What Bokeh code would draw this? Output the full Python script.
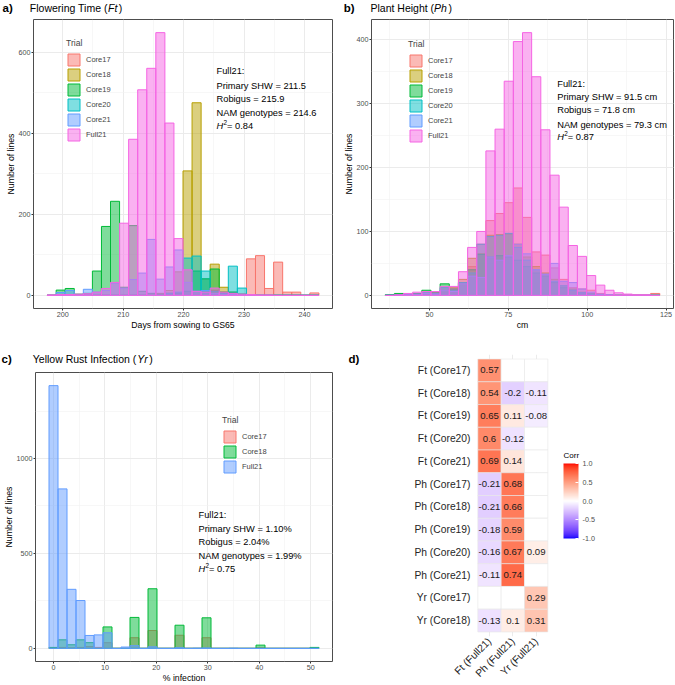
import math
import numpy as np
from bokeh.plotting import figure
from bokeh.models import (Range1d, FixedTicker, Label, Legend, LegendItem, FactorRange,
                          LinearColorMapper, ColorBar, PrintfTickFormatter, ColumnDataSource)
from bokeh.layouts import row, column
from bokeh.embed import file_html
from bokeh.resources import INLINE
from bokeh.core.properties import value

FONT = "Liberation Sans"

# ---------------- data ----------------
# a) Flowering time: 30 bins
ft_trials = ["Core17", "Core18", "Core19", "Core20", "Core21", "Full21"]
ft_bin_start = 197.4
ft_bin_width = 1.5
ft_core17 = [0, 0, 0, 0, 0, 0, 0, 0, 0, 0, 0, 0, 3, 5, 6, 10, 3, 8, 12, 8, 5, 3, 90, 98, 17, 82, 8, 8, 0, 6]
ft_core18 = [0, 0, 0, 0, 0, 0, 0, 0, 0, 0, 0, 0, 5, 12, 58, 307, 475, 40, 77, 20, 8, 0, 0, 0, 0, 0, 0, 0, 0, 0]
ft_core19 = [0, 13, 17, 3, 5, 60, 170, 232, 20, 172, 10, 5, 3, 5, 5, 10, 60, 41, 65, 8, 8, 3, 0, 0, 0, 0, 0, 0, 0, 0]
ft_core20 = [0, 0, 0, 0, 0, 0, 0, 0, 0, 0, 0, 0, 0, 5, 8, 92, 97, 60, 10, 5, 72, 18, 0, 0, 0, 0, 0, 0, 0, 0]
ft_core21 = [0, 7, 12, 0, 15, 8, 12, 30, 18, 39, 55, 138, 40, 70, 112, 32, 10, 12, 5, 3, 2, 0, 0, 0, 0, 0, 0, 0, 0, 0]
ft_full21 = [1, 2, 2, 3, 4, 8, 17, 32, 178, 385, 507, 560, 648, 425, 140, 63, 10, 8, 18, 8, 5, 3, 2, 1, 1, 0, 0, 0, 0, 0]
ft_xticks = [200, 210, 220, 230, 240]
ft_yticks = [0, 200, 400, 600]
ft_notes = ["Full21:", "Primary SHW = 211.5", "Robigus = 215.9", "NAM genotypes = 214.6"]
ft_h2 = "0.84"

# b) Plant height: 30 bins
ph_bin_start = 36.0
ph_bin_width = 2.9
ph_core17 = [0, 0, 0, 1, 2, 3, 5, 10, 20, 45, 80, 117, 128, 145, 168, 122, 68, 63, 43, 25, 12, 10, 8, 3, 1, 0, 0, 0, 0, 3]
ph_core18 = [0, 0, 1, 2, 3, 4, 8, 12, 25, 58, 65, 94, 95, 96, 80, 60, 45, 35, 25, 15, 10, 5, 3, 1, 0, 0, 0, 0, 0, 0]
ph_core19 = [1, 3, 2, 3, 8, 4, 18, 10, 20, 40, 64, 60, 62, 60, 55, 45, 35, 30, 20, 12, 8, 4, 2, 0, 0, 0, 0, 0, 0, 0]
ph_core20 = [0, 1, 1, 2, 4, 3, 12, 8, 20, 35, 80, 92, 94, 97, 75, 55, 40, 33, 22, 15, 8, 4, 2, 1, 0, 0, 0, 0, 0, 0]
ph_core21 = [0, 0, 1, 1, 3, 2, 8, 6, 18, 30, 28, 60, 55, 62, 80, 65, 40, 33, 50, 22, 20, 10, 5, 2, 1, 0, 0, 0, 0, 0]
ph_full21 = [0, 1, 3, 5, 6, 6, 14, 14, 37, 75, 100, 226, 260, 335, 397, 411, 342, 259, 188, 138, 78, 61, 31, 16, 8, 4, 2, 1, 1, 0]
ph_xticks = [50, 75, 100, 125]
ph_yticks = [0, 100, 200, 300, 400]
ph_notes = ["Full21:", "Primary SHW = 91.5 cm", "Robigus = 71.8 cm", "NAM genotypes = 79.3 cm"]
ph_h2 = "0.87"

# c) Yellow rust: 30 bins
yr_trials = ["Core17", "Core18", "Full21"]
yr_bin_start = -0.875
yr_bin_width = 1.75
yr_core17 = [3, 5, 3, 5, 10, 5, 30, 0, 0, 56, 0, 94, 0, 0, 69, 0, 0, 56, 0, 0, 0, 0, 0, 3, 0, 0, 0, 0, 0, 0]
yr_core18 = [5, 45, 19, 45, 30, 0, 113, 0, 0, 163, 0, 314, 0, 0, 122, 0, 0, 161, 0, 0, 0, 0, 0, 17, 0, 0, 0, 0, 0, 5]
yr_full21 = [1384, 840, 311, 252, 68, 71, 82, 0, 7, 14, 0, 8, 0, 0, 3, 0, 1, 2, 0, 0, 1, 0, 0, 0, 0, 0, 0, 0, 0, 1]
yr_xticks = [0, 10, 20, 30, 40, 50]
yr_yticks = [0, 500, 1000]
yr_notes = ["Full21:", "Primary SHW = 1.10%", "Robigus = 2.04%", "NAM genotypes = 1.99%"]
yr_h2 = "0.75"

# d) correlations
corr_rows = ["Ft (Core17)", "Ft (Core18)", "Ft (Core19)", "Ft (Core20)", "Ft (Core21)",
             "Ph (Core17)", "Ph (Core18)", "Ph (Core19)", "Ph (Core20)", "Ph (Core21)",
             "Yr (Core17)", "Yr (Core18)"]
corr_cols = ["Ft (Full21)", "Ph (Full21)", "Yr (Full21)"]
corr_ft = [0.57, 0.54, 0.65, 0.6, 0.69, -0.21, -0.21, -0.18, -0.16, -0.11, None, -0.13]
corr_ph = [None, -0.2, 0.11, -0.12, 0.14, 0.68, 0.66, 0.59, 0.67, 0.74, None, 0.1]
corr_yr = [None, -0.11, -0.08, None, None, None, None, None, 0.09, None, 0.29, 0.31]
corr_ticks = [-1.0, -0.5, 0.0, 0.5, 1.0]

# ---------------- layout geometry (page px) ----------------
TOT_W, TOT_H = 675, 685

STRIP_T = 17                 # title strip of the top row
HT = 332 - STRIP_T           # plots of the top row
WL = 336
WR = TOT_W - WL
Y_BOT = STRIP_T + HT         # y where bottom row starts
STRIP_C = 366 - Y_BOT        # title strip of panel c
HC = TOT_H - Y_BOT - STRIP_C
HB = TOT_H - Y_BOT
BB = 23                      # bottom border of histogram panels

HUE6 = ["#F8766D", "#B79F00", "#00BA38", "#00BFC4", "#619CFF", "#F564E3"]
HUE3 = ["#F8766D", "#00BA38", "#619CFF"]

W = {' ': 278, '(': 333, ')': 333, '.': 278, ':': 278, '=': 584, '%': 889, '-': 333,
     'A': 667, 'B': 667, 'C': 722, 'D': 722, 'E': 667, 'F': 611, 'G': 778, 'H': 722, 'I': 278,
     'M': 833, 'N': 722, 'P': 667, 'R': 722, 'S': 667, 'T': 611, 'W': 944, 'Y': 667,
     'a': 556, 'b': 556, 'c': 500, 'd': 556, 'e': 556, 'f': 278, 'g': 556, 'h': 556, 'i': 222,
     'l': 222, 'm': 833, 'n': 556, 'o': 556, 'p': 556, 'r': 333, 's': 500, 't': 278, 'u': 556,
     'w': 722, 'y': 500, 'x': 500, 'k': 500, 'v': 500}


def tw(s, size):
    return sum(W.get(ch, 556) for ch in s) / 1000.0 * size


def add_text(p, fl, fb, x, y, segs, color="black"):
    """x, y in figure px (y from top); fl/fb = frame left / bottom in figure px."""
    cx = x
    for text, size, style, dy, extra in segs:
        p.add_layout(Label(x=cx - fl, y=fb - y + dy, x_units="screen", y_units="screen",
                           text=text, text_font=FONT, text_font_size=f"{size}px",
                           text_font_style=style, text_baseline="middle", text_align="left",
                           text_color=color))
        cx += tw(text, size) + extra


def title_segs(plain, ital):
    s = 10.5
    return [(plain, s, "normal", 0, 0), (ital, s, "italic", 0, 1.5), (")", s, "normal", 0, 0)]


def strip(w, h):
    p = figure(width=w, height=h, x_range=Range1d(0, w), y_range=Range1d(0, h),
               x_axis_type=None, y_axis_type=None, output_backend="svg", toolbar_location=None,
               min_border=0)
    p.outline_line_color = None
    p.background_fill_color = "white"
    p.border_fill_color = "white"
    return p


def hist_fig(w, h, bl, br, bt, bb, xr, yr, xt, xm, yt, ym, xlabel):
    p = figure(width=w, height=h, x_range=Range1d(*xr), y_range=Range1d(*yr),
               output_backend="svg", toolbar_location=None,
               min_border_left=bl, min_border_right=br, min_border_top=bt, min_border_bottom=bb)
    p.background_fill_color = "white"
    p.border_fill_color = "white"
    p.outline_line_color = "#4D4D4D"
    p.outline_line_width = 1
    xtk = FixedTicker(ticks=xt, minor_ticks=xm)
    ytk = FixedTicker(ticks=yt, minor_ticks=ym)
    p.xaxis.ticker = xtk
    p.xgrid.ticker = xtk
    p.yaxis.ticker = ytk
    p.ygrid.ticker = ytk
    for g in (p.xgrid, p.ygrid):
        g.grid_line_color = "#EBEBEB"
        g.grid_line_width = 1
        g.minor_grid_line_color = "#F2F2F2"
        g.minor_grid_line_width = 0.6
    p.xaxis.axis_label = xlabel
    p.yaxis.axis_label = "Number of lines"
    for ax in (p.xaxis, p.yaxis):
        ax.axis_line_color = None
        ax.minor_tick_line_color = None
        ax.minor_tick_in = 0
        ax.minor_tick_out = 0
        ax.major_tick_in = 0
        ax.major_tick_out = 2
        ax.major_tick_line_color = "#333333"
        ax.major_label_standoff = 1
        ax.axis_label_standoff = 0
        ax.major_label_text_font = FONT
        ax.major_label_text_font_size = "7.2px"
        ax.major_label_text_line_height = 1.0
        ax.major_label_text_color = "#4D4D4D"
        ax.axis_label_text_font = FONT
        ax.axis_label_text_font_size = "8.7px"
        ax.axis_label_text_line_height = 1.0
        ax.axis_label_text_font_style = "normal"
        ax.axis_label_text_color = "black"
    return p


def add_bars(p, start, width, series, names, colors, lxp, lyp):
    n = len(series[0])
    edges = start + width * np.arange(n + 1)
    items = []
    for counts, name, col in zip(series, names, colors):
        r = p.quad(left=edges[:-1], right=edges[1:], bottom=np.zeros(n), top=np.array(counts, float),
                   fill_color=col, fill_alpha=0.5, line_color=col, line_width=1)
        items.append(LegendItem(label=name, renderers=[r]))
    lg = Legend(items=items, location=(lxp, lyp), title="Trial", glyph_width=15, glyph_height=15,
                label_height=15, spacing=0, padding=0, margin=0, label_standoff=5,
                label_text_font=FONT, label_text_font_size="7.5px",
                title_text_font=FONT, title_text_font_size="8.6px", title_text_font_style="normal",
                title_standoff=4, background_fill_alpha=0, border_line_color=None)
    p.add_layout(lg)


def notes(p, fl, fb, x, ys, lines, h2):
    s = 9.3
    for line, y in zip(lines, ys[:4]):
        add_text(p, fl, fb, x, y, [(line, s, "normal", 0, 0)])
    add_text(p, fl, fb, x, ys[4], [("H", s, "italic", 0, 0.3), ("2", 6.4, "normal", 3.6, 0),
                                   (" = " + h2, s, "normal", 0, 0)])


def expand(lo, hi, f=0.05):
    d = (hi - lo) * f
    return (lo - d, hi + d)


# ---------------- title strips ----------------
ta = strip(WL, STRIP_T)
add_text(ta, 0, STRIP_T, 2, 7.8, [("a)", 11.5, "bold", 0, 0)])
add_text(ta, 0, STRIP_T, 29.3, 7.8, title_segs("Flowering Time (", "Ft"))
tb = strip(WR, STRIP_T)
add_text(tb, 0, STRIP_T, 343.3 - WL, 7.8, [("b)", 11.5, "bold", 0, 0)])
add_text(tb, 0, STRIP_T, 370 - WL, 7.8, title_segs("Plant Height (", "Ph"))
tc = strip(WL, STRIP_C)
add_text(tc, 0, STRIP_C, 1, 358 - Y_BOT, [("c)", 11.5, "bold", 0, 0)])
add_text(tc, 0, STRIP_C, 32.3, 358 - Y_BOT, title_segs("Yellow Rust Infection (", "Yr"))

# ---------------- panel a ----------------
aL, aR = 33, WL - 332
aT = 19 - STRIP_T
FBa = HT - BB   # frame bottom, figure px from top
ft_series = [ft_core17, ft_core18, ft_core19, ft_core20, ft_core21, ft_full21]
ft_xr = expand(ft_bin_start, ft_bin_start + ft_bin_width * len(ft_full21))
ft_ymax = max(max(s) for s in ft_series)
pa = hist_fig(WL, HT, aL, aR, aT, BB, ft_xr, expand(0, ft_ymax), ft_xticks, [205, 215, 225, 235],
              ft_yticks, [100, 300, 500], "Days from sowing to GS65")
add_bars(pa, ft_bin_start, ft_bin_width, ft_series, ft_trials, HUE6,
         66 - aL, FBa - (53 - STRIP_T + 90))
notes(pa, aL, FBa, 216, [v - STRIP_T for v in (71.7, 86, 99.3, 113.3, 126.7)], ft_notes, ft_h2)

# ---------------- panel b ----------------
bL, bR = 371 - WL, TOT_W - 673
ph_series = [ph_core17, ph_core18, ph_core19, ph_core20, ph_core21, ph_full21]
ph_xr = expand(ph_bin_start, ph_bin_start + ph_bin_width * len(ph_full21))
ph_ymax = max(max(s) for s in ph_series)
pb = hist_fig(WR, HT, bL, bR, aT, BB, ph_xr, expand(0, ph_ymax), ph_xticks, [37.5, 62.5, 87.5, 112.5],
              ph_yticks, [50, 150, 250, 350], "cm")
add_bars(pb, ph_bin_start, ph_bin_width, ph_series, ft_trials, HUE6,
         408 - WL - bL, FBa - (54 - STRIP_T + 90))
notes(pb, bL, FBa, 556.7 - WL, [v - STRIP_T for v in (84, 97.7, 110.7, 125, 137.3)], ph_notes, ph_h2)

# ---------------- panel c ----------------
Y_C = Y_BOT + STRIP_C
cT = 372 - Y_C
FBc = HC - BB
yr_series = [yr_core17, yr_core18, yr_full21]
yr_xr = expand(yr_bin_start, yr_bin_start + yr_bin_width * len(yr_full21))
yr_ymax = max(max(s) for s in yr_series)
pc = hist_fig(WL, HC, aL, aR, cT, BB, yr_xr, expand(0, yr_ymax), yr_xticks, [5, 15, 25, 35, 45],
              yr_yticks, [250, 750, 1250], "% infection")
add_bars(pc, yr_bin_start, yr_bin_width, yr_series, yr_trials, HUE3,
         220 - aL, FBc - (430 - Y_C + 45))
notes(pc, aL, FBc, 196, [v - Y_C for v in (515, 529, 542.7, 556.7, 569.3)], yr_notes, yr_h2)


# ---------------- panel d ----------------
def srgb_to_lab(hexc):
    rgb = [int(hexc[i:i + 2], 16) / 255.0 for i in (1, 3, 5)]
    lin = [((c + 0.055) / 1.055) ** 2.4 if c > 0.04045 else c / 12.92 for c in rgb]
    X = 0.4124 * lin[0] + 0.3576 * lin[1] + 0.1805 * lin[2]
    Y = 0.2126 * lin[0] + 0.7152 * lin[1] + 0.0722 * lin[2]
    Z = 0.0193 * lin[0] + 0.1192 * lin[1] + 0.9505 * lin[2]
    d = 6 / 29

    def f(t):
        return t ** (1 / 3) if t > d ** 3 else t / (3 * d * d) + 4 / 29
    fx, fy, fz = f(X / 0.95047), f(Y), f(Z / 1.08883)
    return (116 * fy - 16, 500 * (fx - fy), 200 * (fy - fz))


def lab_to_hex(L, a, b):
    d = 6 / 29
    fy = (L + 16) / 116
    fx = fy + a / 500
    fz = fy - b / 200

    def fi(t):
        return t ** 3 if t > d else 3 * d * d * (t - 4 / 29)
    X, Y, Z = 0.95047 * fi(fx), fi(fy), 1.08883 * fi(fz)
    r = 3.2406 * X - 1.5372 * Y - 0.4986 * Z
    g = -0.9689 * X + 1.8758 * Y + 0.0415 * Z
    bb = 0.0557 * X - 0.2040 * Y + 1.0570 * Z
    out = []
    for c in (r, g, bb):
        c = min(max(c, 0), 1)
        c = 1.055 * c ** (1 / 2.4) - 0.055 if c > 0.0031308 else 12.92 * c
        out.append(int(round(min(max(c, 0), 1) * 255)))
    return "#%02x%02x%02x" % tuple(out)


lab_lo, lab_mid, lab_hi = srgb_to_lab("#0000FF"), srgb_to_lab("#FFFFFF"), srgb_to_lab("#FF0000")
palette = []
for t in np.linspace(-1, 1, 256):
    end = lab_lo if t < 0 else lab_hi
    u = abs(t)
    palette.append(lab_to_hex(*[m + (e - m) * u for m, e in zip(lab_mid, end)]))

xs, ys, vs, ts = [], [], [], []
for ci, vals in enumerate([corr_ft, corr_ph, corr_yr]):
    for rname, v in zip(corr_rows, vals):
        xs.append(ci + 1)
        ys.append(rname)
        vs.append(np.nan if v is None else v)
        ts.append("" if v is None else f"{v:g}")
src = ColumnDataSource(dict(x=xs, y=ys, v=np.array(vs, float), t=ts))
mapper = LinearColorMapper(palette=palette, low=-1, high=1, nan_color="white")

PADF = 0.1  # padding (in tiles) around the tile block
X_TD = 380                 # x where the heatmap figure starts
WTD = X_TD - WL
WPD = TOT_W - X_TD
dL = round(474.7) - X_TD
dR = TOT_W - 602
dT = round(353.7) - Y_BOT
dB = TOT_H - round(639.3)
d_fw = WPD - dL - dR
tile_px = 70.0 / 3
x_lo = 0.5 - PADF
x_hi = x_lo + d_fw / tile_px

td = strip(WTD, HB)
add_text(td, 0, HB, 348 - WL, 358 - Y_BOT, [("d)", 11.5, "bold", 0, 0)])

pd_ = figure(width=WPD, height=HB, x_range=Range1d(x_lo, x_hi),
             y_range=FactorRange(factors=corr_rows[::-1], range_padding=2 * PADF, range_padding_units="absolute"),
             output_backend="svg", toolbar_location=None,
             min_border_left=dL, min_border_right=dR, min_border_top=dT, min_border_bottom=dB)
pd_.outline_line_color = None
pd_.background_fill_color = "white"
pd_.border_fill_color = "white"
pd_.ygrid.grid_line_color = None
pd_.xgrid.grid_line_color = "#EBEBEB"
pd_.rect(x="x", y="y", width=1, height=1, source=src,
         fill_color={"field": "v", "transform": mapper}, line_color="#E8E8E8", line_width=0.6)
pd_.text(x="x", y="y", text="t", source=src, text_align="center", text_baseline="middle",
         text_font=value(FONT), text_font_size=value("9.6px"), text_color="#1A1A1A")
pd_.xaxis.ticker = FixedTicker(ticks=list(range(1, len(corr_cols) + 1)))
pd_.xgrid.ticker = pd_.xaxis.ticker
pd_.xaxis.major_label_overrides = {i + 1: c for i, c in enumerate(corr_cols)}
pd_.xaxis.major_label_orientation = math.pi / 4
for ax in (pd_.xaxis, pd_.yaxis):
    ax.axis_line_color = None
    ax.major_tick_line_color = None
    ax.minor_tick_line_color = None
    ax.minor_tick_out = 0
    ax.major_tick_out = 0
    ax.major_label_text_font = FONT
    ax.major_label_text_font_size = "10.3px"
    ax.major_label_text_line_height = 1.0
    ax.major_label_text_color = "#262626"
    ax.major_label_standoff = 5
pd_.xaxis.major_label_standoff = 3

FBd = HB - dB
cb = ColorBar(color_mapper=mapper, location=(563 - X_TD - dL, FBd - (541 - Y_BOT)),
              width=15, height=75, padding=0, title=None,
              ticker=FixedTicker(ticks=corr_ticks), formatter=PrintfTickFormatter(format="%.1f"),
              major_label_text_font=FONT, major_label_text_font_size="7.2px",
              major_label_text_color="#4D4D4D", label_standoff=4,
              major_tick_line_color="white", major_tick_in=3, major_tick_out=0,
              minor_tick_line_color=None, bar_line_color=None,
              background_fill_alpha=0, border_line_color=None)
pd_.add_layout(cb)
add_text(pd_, dL, FBd, 563 - X_TD, 458 - Y_BOT, [("Corr", 8, "normal", 0, 0)])

layout = column(
    row(column(ta), column(tb)),
    row(column(pa), column(pb)),
    row(column(column(tc), column(pc)), row(column(td), column(pd_))),
)
open("out.html", "w").write(file_html(layout, INLINE))
